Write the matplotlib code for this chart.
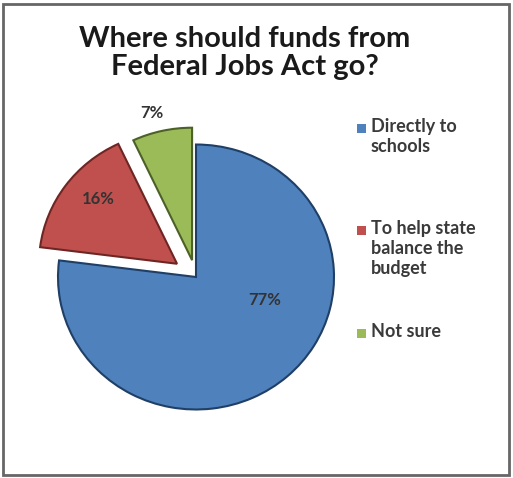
import matplotlib
matplotlib.use("Agg")
import matplotlib.pyplot as plt
from matplotlib.patches import Rectangle

title = "Where should funds from\nFederal Jobs Act go?"
categories = ["Directly to\nschools", "To help state\nbalance the\nbudget", "Not sure"]
values = [77, 16, 7]
labels = ["77%", "16%", "7%"]
colors = ["#4F81BD", "#C0504D", "#9BBB59"]
edges = ["#1F3F66", "#6E2624", "#4C6128"]
explode = [0, 0.17, 0.13]

W, H = 513, 478
fig = plt.figure(figsize=(W / 100, H / 100), dpi=100)
fig.patch.set_facecolor("white")

# border
fig.patches.append(Rectangle((3 / W, 3 / H), 1 - 7 / W, 1 - 7 / H, transform=fig.transFigure,
                             fill=False, edgecolor="#666666", linewidth=2))

cx, cy, R = 196, 277, 138
sy = 0.96  # slight vertical squash (3D tilt)
ax = fig.add_axes([0, 0, 1, 1])
wedges, _ = ax.pie(values, colors=colors, startangle=90, counterclock=False,
                   explode=explode, radius=1)
for w, ec in zip(wedges, edges):
    w.set_edgecolor(ec)
    w.set_linewidth(1.5)
ax.set_xlim(-cx / R, (W - cx) / R)
ax.set_ylim(-(H - cy) / (R * sy), cy / (R * sy))
ax.set_aspect(sy)
ax.axis("off")

# percentage label positions (pie radius units)
label_pos = [(0.50, -0.17), (-0.71, 0.59), (-0.32, 1.24)]
for lab, (lx, ly) in zip(labels, label_pos):
    ax.text(lx, ly, lab, ha="center", va="center",
            fontsize=12, fontweight="bold", color="#333333", family="Lato")

fig.text(245 / W, 1 - 53 / H, title, ha="center", va="center", fontsize=21,
         fontweight="bold", family="Lato", color="#1a1a1a", linespacing=1.12)

# legend
ys = [128, 230, 333]
for cat, col, y in zip(categories, colors, ys):
    fig.patches.append(Rectangle((357 / W, 1 - (y + 5) / H), 9 / W, 9 / H,
                                 transform=fig.transFigure, facecolor=col, edgecolor="none"))
    fig.text(371 / W, 1 - (y - 10) / H, cat, ha="left", va="top", fontsize=13,
             family="Lato", fontweight="bold", color="#3a3a3a", linespacing=1.2)

fig.savefig("out.png", dpi=100)
